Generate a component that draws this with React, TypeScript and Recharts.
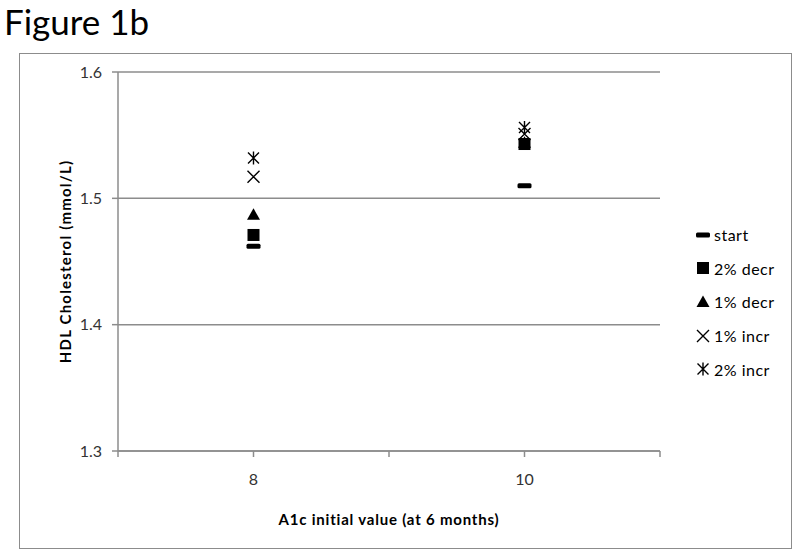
import React from "react";
import {
  CartesianGrid,
  Label,
  Scatter,
  ScatterChart,
  XAxis,
  YAxis,
} from "recharts";

// A1c initial value groups
const a1cValues = [8, 10];

// HDL cholesterol (mmol/L)
const startValues = [1.462, 1.51];
const decr2Values = [1.471, 1.543];
const decr1Values = [1.487, 1.544];
const incr1Values = [1.517, 1.551];
const incr2Values = [1.532, 1.556];

const xTicks = [7, 8, 9, 10, 11];
const xTickLabels = ["", "8", "", "10", ""];
const yTicks = [1.3, 1.4, 1.5, 1.6];

const FONT = "Lato, 'Open Sans', sans-serif";

const toPoints = (vals: number[]) =>
  a1cValues.map((x, i) => ({ x, y: vals[i] }));

type MarkerKind = "dash" | "square" | "triangle" | "x" | "star";

function Marker({ kind, cx, cy }: { kind: MarkerKind; cx: number; cy: number }) {
  if (kind === "dash")
    return <rect x={cx - 7} y={cy - 2.5} width={14} height={5} rx={1.5} fill="#000" />;
  if (kind === "square")
    return <rect x={cx - 6} y={cy - 6} width={12} height={12} fill="#000" />;
  if (kind === "triangle")
    return (
      <path
        d={`M${cx},${cy - 6.5} L${cx + 6.5},${cy + 5} L${cx - 6.5},${cy + 5} Z`}
        fill="#000"
      />
    );
  if (kind === "x")
    return (
      <path
        d={`M${cx - 6},${cy - 6} L${cx + 6},${cy + 6} M${cx + 6},${cy - 6} L${cx - 6},${cy + 6}`}
        stroke="#000"
        strokeWidth={1.4}
      />
    );
  return (
    <path
      d={`M${cx - 5.5},${cy - 5.5} L${cx + 5.5},${cy + 5.5} M${cx + 5.5},${cy - 5.5} L${cx - 5.5},${cy + 5.5} M${cx},${cy - 6.5} L${cx},${cy + 6.5}`}
      stroke="#000"
      strokeWidth={1.4}
    />
  );
}

const series: Array<{ name: string; kind: MarkerKind; values: number[] }> = [
  { name: "start", kind: "dash", values: startValues },
  { name: "2% decr", kind: "square", values: decr2Values },
  { name: "1% decr", kind: "triangle", values: decr1Values },
  { name: "1% incr", kind: "x", values: incr1Values },
  { name: "2% incr", kind: "star", values: incr2Values },
];

export default function App() {
  return (
    <div
      style={{
        position: "absolute",
        left: 0,
        top: 0,
        width: 800,
        height: 557,
        background: "#fff",
        fontFamily: FONT,
      }}
    >
      <div
        style={{
          position: "absolute",
          left: 4,
          top: 0,
          fontSize: 35,
          lineHeight: "42px",
          color: "#000",
        }}
      >
        Figure 1b
      </div>
      <div
        style={{
          position: "absolute",
          left: 19,
          top: 53,
          width: 773,
          height: 496,
          border: "1.5px solid #8c8c8c",
          boxSizing: "border-box",
        }}
      />
      <div style={{ position: "absolute", left: 0, top: 0 }}>
        <ScatterChart
          width={800}
          height={557}
          margin={{ top: 72, right: 140, bottom: 76, left: 68 }}
        >
          <CartesianGrid
            horizontal
            vertical={false}
            stroke="#8c8c8c"
            strokeWidth={1.5}
          />
          <XAxis
            type="number"
            dataKey="x"
            domain={[7, 11]}
            ticks={xTicks}
            tickFormatter={(v: number) => xTickLabels[xTicks.indexOf(v)] ?? ""}
            height={30}
            tickSize={6}
            tickMargin={17}
            stroke="#8c8c8c"
            strokeWidth={1.5}
            tick={{ fontSize: 16, fill: "#333", fontFamily: FONT }}
          >
            <Label
              value="A1c initial value (at 6 months)"
              position="bottom"
              offset={33}
              style={{
                fontSize: 15,
                fontWeight: 700,
                fill: "#000",
                fontFamily: FONT,
                letterSpacing: 0.8,
              }}
            />
          </XAxis>
          <YAxis
            type="number"
            dataKey="y"
            domain={[1.3, 1.6]}
            ticks={yTicks}
            tickFormatter={(v: number) => v.toFixed(1)}
            width={50}
            tickSize={6}
            tickMargin={10}
            stroke="#8c8c8c"
            strokeWidth={1.5}
            tick={{ fontSize: 16, fill: "#333", fontFamily: FONT }}
          >
            <Label
              value="HDL Cholesterol (mmol/L)"
              angle={-90}
              position="insideLeft"
              offset={-2}
              style={{
                fontSize: 15,
                fontWeight: 700,
                fill: "#000",
                fontFamily: FONT,
                textAnchor: "middle",
                letterSpacing: 1.2,
              }}
            />
          </YAxis>
          {series.map((s) => (
            <Scatter
              key={s.name}
              name={s.name}
              data={toPoints(s.values)}
              isAnimationActive={false}
              shape={(p: any) => <Marker kind={s.kind} cx={p.cx} cy={p.cy} />}
            />
          ))}
        </ScatterChart>
      </div>
      <div style={{ position: "absolute", left: 695, top: 218 }}>
        {series.map((s) => (
          <div
            key={s.name}
            style={{
              display: "flex",
              alignItems: "center",
              height: 33.6,
              fontSize: 16,
              letterSpacing: 0.5,
              color: "#000",
            }}
          >
            <svg width={16} height={16} style={{ marginRight: 3 }}>
              <Marker kind={s.kind} cx={8} cy={8} />
            </svg>
            <span>{s.name}</span>
          </div>
        ))}
      </div>
    </div>
  );
}
